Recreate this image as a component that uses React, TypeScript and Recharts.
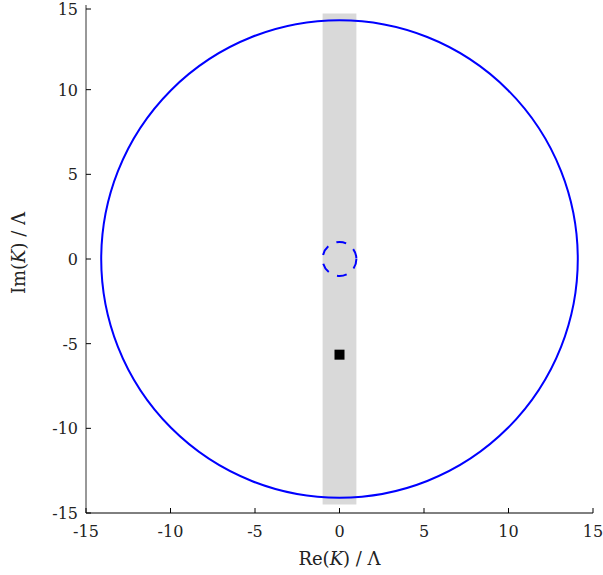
import { ScatterChart, Scatter, XAxis, YAxis, ReferenceArea, Label } from "recharts"

const axisTicks = [-15, -10, -5, 0, 5, 10, 15]
const circleCenter = { x: 0, y: 0 }
const outerRadius = 14.1
const innerRadius = 1.0
const bandX = [-1, 1]
const bandY = [-14.5, 14.5]
const squarePoints = [{ x: 0, y: -5.65 }]

// center + one point on each axis, the line renderer turns these into an ellipse in pixel space
const circlePoints = (r: number) => [
  { x: circleCenter.x, y: circleCenter.y },
  { x: circleCenter.x + r, y: circleCenter.y },
  { x: circleCenter.x, y: circleCenter.y + r }
]

const FONT = "'DejaVu Serif', serif"

const makeCircleLine = (dash?: string) => (props: any) => {
  const pts = props.points || []
  if (pts.length < 3) return <g />
  const c = pts[0]
  const rx = Math.abs(pts[1].x - c.x)
  const ry = Math.abs(c.y - pts[2].y)
  return (
    <ellipse
      cx={c.x}
      cy={c.y}
      rx={rx}
      ry={ry}
      fill="none"
      stroke="#0000ff"
      strokeWidth={2}
      strokeDasharray={dash}
    />
  )
}

const XTick = ({ x, y, payload }: any) => (
  <g>
    <line x1={x} x2={x} y1={y} y2={y - 5} stroke="#000" />
    <text x={x} y={y + 24} textAnchor="middle" fontFamily={FONT} fontSize={16} fill="#222">
      {payload.value}
    </text>
  </g>
)

const YTick = ({ x, y, payload }: any) => (
  <g>
    <line x1={x} x2={x + 5} y1={y} y2={y} stroke="#000" />
    <text x={x - 8} y={y + 6} textAnchor="end" fontFamily={FONT} fontSize={16} fill="#222">
      {payload.value}
    </text>
  </g>
)

const hidden = () => <g />

const square = ({ cx, cy }: any) => (
  <rect x={cx - 5} y={cy - 5} width={10} height={10} fill="#000" />
)

export default function App() {
  return (
    <div style={{ position: "absolute", left: 0, top: 0, background: "#fff" }}>
      <ScatterChart width={603} height={575} margin={{ top: 5, right: 10, bottom: 32, left: 0 }}>

        <XAxis
          type="number"
          dataKey="x"
          domain={[-15, 15]}
          ticks={axisTicks}
          height={30}
          tickLine={false}
          tickSize={0}
          tickMargin={0}
          tick={<XTick />}
          axisLine={{ stroke: "#000" }}
          allowDataOverflow
        >
          <Label
            content={({ viewBox }: any) => (
              <text
                x={viewBox.x + viewBox.width / 2}
                y={viewBox.y + 52}
                textAnchor="middle"
                fontFamily={FONT}
                fontSize={18}
                fill="#222"
              >
                Re(<tspan fontStyle="italic">K</tspan>) / Λ
              </text>
            )}
          />
        </XAxis>

        <YAxis
          type="number"
          dataKey="y"
          domain={[-15, 15]}
          ticks={axisTicks}
          width={86}
          tickLine={false}
          tickSize={0}
          tickMargin={0}
          tick={<YTick />}
          axisLine={{ stroke: "#333" }}
          allowDataOverflow
        >
          <Label
            content={({ viewBox }: any) => (
              <text
                x={25}
                y={viewBox.y + viewBox.height / 2 - 6}
                transform={`rotate(-90 25 ${viewBox.y + viewBox.height / 2 - 6})`}
                textAnchor="middle"
                fontFamily={FONT}
                fontSize={18}
                fill="#222"
              >
                Im(<tspan fontStyle="italic">K</tspan>) / Λ
              </text>
            )}
          />
        </YAxis>

        <ReferenceArea
          x1={bandX[0]}
          x2={bandX[1]}
          y1={bandY[0]}
          y2={bandY[1]}
          fill="#d9d9d9"
          fillOpacity={1}
          stroke="none"
        />

        <Scatter
          data={circlePoints(outerRadius)}
          shape={hidden}
          line={makeCircleLine()}
          isAnimationActive={false}
        />

        <Scatter
          data={circlePoints(innerRadius)}
          shape={hidden}
          line={makeCircleLine("10 9")}
          isAnimationActive={false}
        />

        <Scatter
          data={squarePoints}
          shape={square}
          isAnimationActive={false}
        />

      </ScatterChart>
    </div>
  )
}
